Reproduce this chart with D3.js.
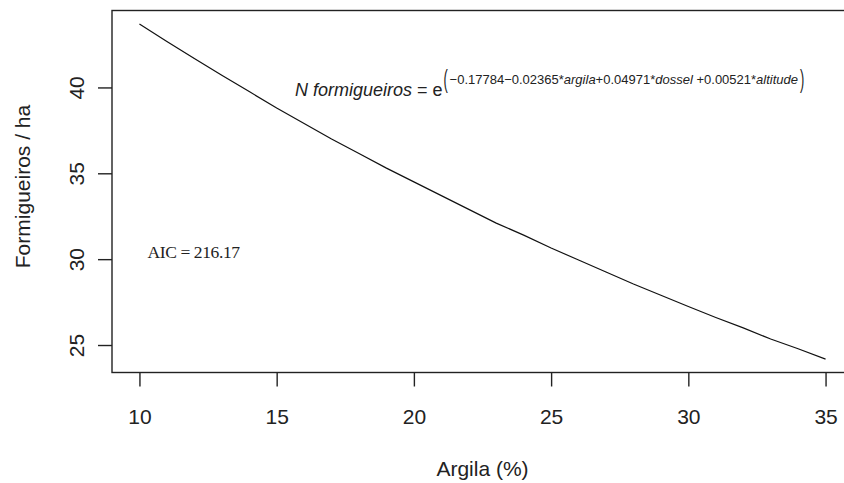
<!DOCTYPE html>
<html>
<head>
<meta charset="utf-8">
<script src="https://cdn.jsdelivr.net/npm/d3@7"></script>
<style>
  body { margin: 0; background: #fff; }
  svg { display: block; font-family: "Liberation Sans", Arial, sans-serif; }
</style>
</head>
<body>
<svg id="chart" width="844" height="483"></svg>
<script>
// argila (%) and fitted ant nests per ha
var argila = [10, 11, 12, 13, 14, 15, 16, 17, 18, 19, 20, 21, 22,
              23, 24, 25, 26, 27, 28, 29, 30, 31, 32, 33, 34, 35];
var formigueiros = [43.7, 42.68, 41.68, 40.71, 39.76, 38.8, 37.9, 37.0, 36.15,
                    35.3, 34.5, 33.7, 32.9, 32.1, 31.4, 30.65, 29.95, 29.25,
                    28.55, 27.9, 27.24, 26.6, 26.0, 25.35, 24.78, 24.18];
var xTicks = [10, 15, 20, 25, 30, 35];
var yTicks = [25, 30, 35, 40];
var aicLabel = "AIC = 216.17";

var svg = d3.select("#chart");
var pl = 112, pt = 10.5, pr = 853, pb = 372.5;   // plot box

// R style 4% padding on both axes
var xr = d3.extent(argila), yr = d3.extent(formigueiros);
var xpad = (xr[1] - xr[0]) * 0.04, ypad = (yr[1] - yr[0]) * 0.04;
var x = d3.scaleLinear().domain([xr[0] - xpad, xr[1] + xpad]).range([pl, pr]);
var y = d3.scaleLinear().domain([yr[0] - ypad, yr[1] + ypad]).range([pb, pt]);

svg.append("rect").attr("width", 844).attr("height", 483).attr("fill", "#fff");

// box
svg.append("rect")
  .attr("x", pl).attr("y", pt)
  .attr("width", pr - pl).attr("height", pb - pt)
  .attr("fill", "none").attr("stroke", "#222").attr("stroke-width", 1.4);

// x axis
var gx = svg.append("g").attr("transform", "translate(0," + pb + ")")
  .call(d3.axisBottom(x).tickValues(xTicks).tickSize(14).tickFormat(d3.format("d")));
gx.select(".domain").remove();
gx.selectAll("line").attr("stroke", "#222").attr("stroke-width", 1.4);
gx.selectAll("text").attr("y", 51).attr("dy", null)
  .attr("fill", "#222").style("font-size", "21px").style("font-family", "Liberation Sans, Arial");

// y axis, labels rotated like R
var gy = svg.append("g").attr("transform", "translate(" + pl + ",0)")
  .call(d3.axisLeft(y).tickValues(yTicks).tickSize(14).tickFormat(d3.format("d")));
gy.select(".domain").remove();
gy.selectAll("line").attr("stroke", "#222").attr("stroke-width", 1.4);
gy.selectAll("text")
  .attr("x", null).attr("dy", null)
  .attr("transform", "translate(-28,0) rotate(-90)")
  .attr("text-anchor", "middle")
  .attr("fill", "#222").style("font-size", "21px").style("font-family", "Liberation Sans, Arial");

// axis titles
svg.append("text").attr("x", (pl + pr) / 2).attr("y", 476)
  .attr("text-anchor", "middle").attr("fill", "#222").style("font-size", "21px")
  .text("Argila (%)");
svg.append("text")
  .attr("transform", "translate(29.5," + ((pt + pb) / 2 - 5) + ") rotate(-90)")
  .attr("text-anchor", "middle").attr("fill", "#222").style("font-size", "21px")
  .text("Formigueiros / ha");

// fitted curve
var line = d3.line().x(function (d, i) { return x(argila[i]); }).y(function (d) { return y(d); });
svg.append("path").datum(formigueiros)
  .attr("d", line).attr("fill", "none")
  .attr("stroke", "#111").attr("stroke-width", 1.2);

// model equation: main part, then tall thin parens round the exponent
var ex = 295, ey = 96;
var eq = svg.append("text").attr("x", ex).attr("y", ey).attr("fill", "#222").style("font-size", "18px");
eq.append("tspan").style("font-style", "italic").text("N formigueiros");
eq.append("tspan").text(" = e");
var cx = ex + eq.node().getComputedTextLength() + 1;

var paren = function (px, ch) {
  svg.append("text")
    .attr("transform", "translate(" + px + "," + (ey - 8) + ") scale(0.8,1.6)")
    .attr("fill", "#222").style("font-size", "16px").text(ch);
};
paren(cx, "(");
cx += 6;

var sup = [["\u22120.17784\u22120.02365*", false], ["argila", true], ["+0.04971*", false],
           ["dossel", true], [" +0.00521*", false], ["altitude", true]];
var st = svg.append("text").attr("x", cx).attr("y", ey - 12).attr("fill", "#222").style("font-size", "13px");
sup.forEach(function (s) {
  var t = st.append("tspan").text(s[0]);
  if (s[1]) t.style("font-style", "italic");
});
cx += st.node().getComputedTextLength() + 2;
paren(cx, ")");

// AIC
svg.append("text").attr("x", 147.5).attr("y", 257.5)
  .attr("fill", "#222")
  .style("font-family", "Liberation Serif, Times New Roman, serif")
  .style("font-size", "17.5px").style("letter-spacing", "-0.4px")
  .text(aicLabel);
</script>
</body>
</html>
